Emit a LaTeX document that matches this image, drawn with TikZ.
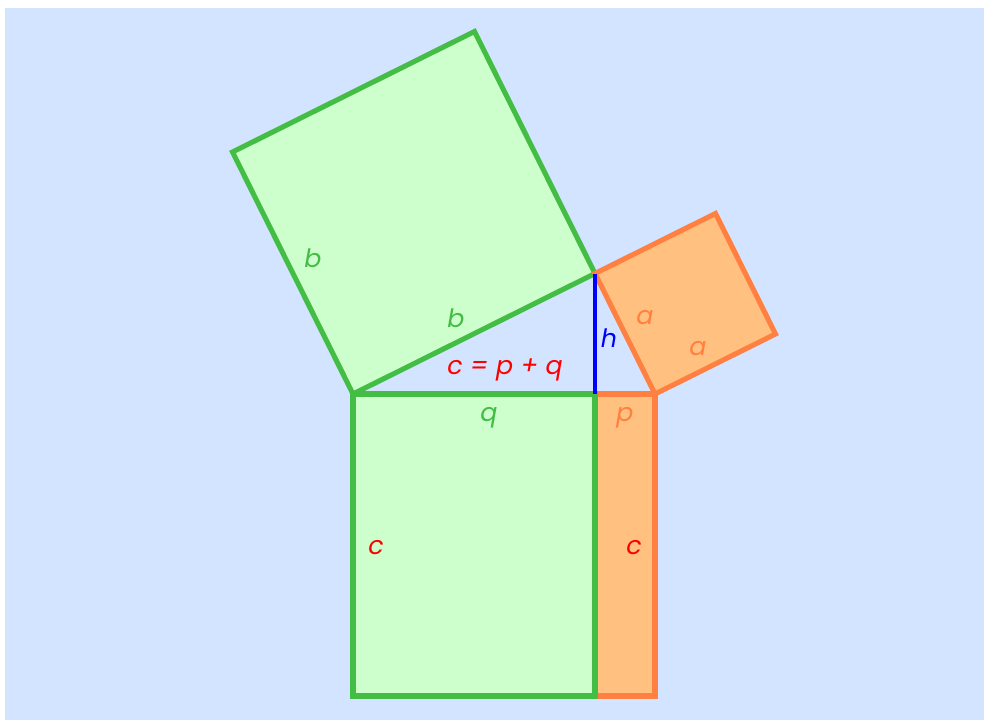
\documentclass[tikz,border=0pt]{standalone}
\usepackage{fontspec}
\setmainfont{Poppins}[ItalicFont={Poppins Italic}]
\definecolor{bg}{RGB}{210,228,255}
\definecolor{gstroke}{RGB}{68,189,68}
\definecolor{gfill}{RGB}{204,255,204}
\definecolor{ostroke}{RGB}{255,128,64}
\definecolor{ofill}{RGB}{255,192,128}
\tikzset{
  gsq/.style={draw=gstroke,fill=gfill,line width=3.8pt,line join=miter},
  osq/.style={draw=ostroke,fill=ofill,line width=3.8pt,line join=miter},
  lbl/.style={font=\fontsize{19}{22}\selectfont\itshape,inner sep=0pt},
}
\begin{document}
\begin{tikzpicture}[x=0.75pt,y=-0.75pt]
\useasboundingbox (0,0) rectangle (984,720);
\fill[bg] (5,8) rectangle (984,720);
\coordinate (A) at (353,394);
\coordinate (B) at (655,394);
\coordinate (H) at (595,394);
\coordinate (C) at (595,273.5);
\coordinate (G1) at (474.5,31.5);
\coordinate (G2) at (232.5,152);
\coordinate (O1) at (775.5,334);
\coordinate (O2) at (715.5,213.5);
\coordinate (AD) at (353,696);
\coordinate (HD) at (595,696);
\coordinate (BD) at (655,696);
% squares on legs
\draw[gsq] (A) -- (C) -- (G1) -- (G2) -- cycle;
\draw[osq] (C) -- (B) -- (O1) -- (O2) -- cycle;
% rectangles in hypotenuse square
\draw[osq] (H) -- (B) -- (BD) -- (HD) -- cycle;
\draw[gsq] (A) -- (H) -- (HD) -- (AD) -- cycle;
% altitude
\draw[blue,line width=2.4pt] (C) -- (H);
% labels
\node[lbl,text=gstroke] (lb1) at (313,258) {b};
\node[lbl,text=gstroke] (lb2) at (456,318) {b};
\node[lbl,text=ostroke] (la1) at (645,318) {a};
\node[lbl,text=ostroke] (la2) at (698,349) {a};
\node[lbl,text=blue] (lh) at (609,338) {h};
\node[lbl,text=red] (lc) at (505,370) {c = p + q};
\node[lbl,text=gstroke] (lq) at (489,418) {q};
\node[lbl,text=ostroke] (lp) at (625,418) {p};
\node[lbl,text=red] (lc1) at (376,548) {c};
\node[lbl,text=red] (lc2) at (634,548) {c};
\end{tikzpicture}
\end{document}
